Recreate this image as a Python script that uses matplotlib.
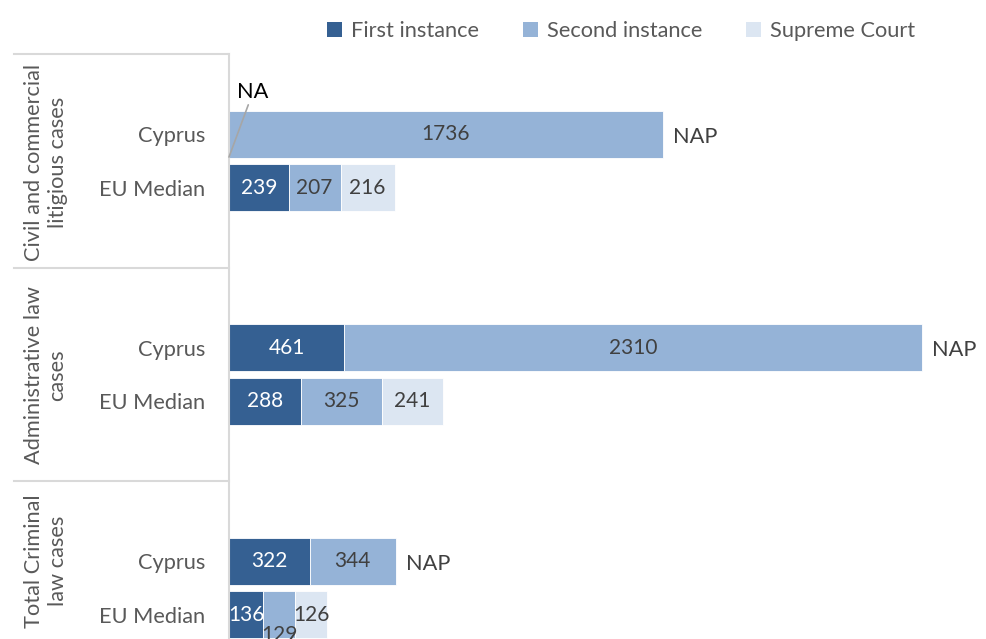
import matplotlib.pyplot as plt
import matplotlib.transforms as mtransforms
from matplotlib.lines import Line2D
from matplotlib.patches import Patch

plt.rcParams['font.family'] = ['Lato', 'DejaVu Sans']

groups = ['Civil and commercial\nlitigious cases', 'Administrative law\ncases', 'Total Criminal\nlaw cases']
rows = ['Cyprus', 'EU Median']
series = ['First instance', 'Second instance', 'Supreme Court']
colors = ['#356092', '#95B3D7', '#DCE6F2']
text_colors = ['white', '#404040', '#404040']

# values per group: [Cyprus, EU Median]; None = not available
first = [[None, 239], [461, 288], [322, 136]]
second = [[1736, 207], [2310, 325], [344, 129]]
supreme = [[None, 216], [None, 241], [None, 126]]
supreme_note = ['NAP', 'NAP', 'NAP']

W, H = 987, 639
fig = plt.figure(figsize=(W / 100, H / 100), dpi=100)
ax = fig.add_axes([229 / W, 0, 1 - 229 / W, 585 / H])

pitch = 53.4
ax.set_xlim(0, 758 / 0.25)
ax.set_ylim(-0.5 + 585 / pitch, -0.5)

LBL = 15.7
ypos, ylabels = [], []
for g in range(len(groups)):
    for r in range(len(rows)):
        y = 4 * g + 1 + r
        ypos.append(y)
        ylabels.append(rows[r])
        left = 0
        for s, data in enumerate([first, second, supreme]):
            v = data[g][r]
            if v is None:
                continue
            ax.barh(y, v, left=left, height=0.88, color=colors[s],
                    edgecolor='white', linewidth=0.6)
            ty = y
            if g == 2 and r == 1 and s == 1:
                ty = y + 0.38  # label pushed down, as in the original
            ax.text(left + v / 2, ty, str(v), ha='center', va='center',
                    fontsize=15, color=text_colors[s])
            left += v
        if r == 0:
            ax.text(left + 40, y + 0.05, supreme_note[g], ha='left', va='center',
                    fontsize=LBL, color='#404040')

# NA label for missing first instance (civil, Cyprus)
ax.annotate('NA', xy=(0, 1.43), xytext=(96, 0.4), ha='center', va='bottom',
            fontsize=LBL, color='black',
            arrowprops=dict(arrowstyle='-', color='#A6A6A6', lw=1.2,
                            shrinkA=0, shrinkB=0))

ax.set_yticks(ypos)
ax.set_yticklabels(ylabels, fontsize=LBL, color='#595959')
ax.tick_params(axis='y', length=0, pad=17)
ax.set_xticks([])
for sp in ['top', 'right', 'bottom']:
    ax.spines[sp].set_visible(False)
ax.spines['left'].set_color('#D9D9D9')
ax.spines['left'].set_linewidth(1.5)

# group separators and labels
trans = mtransforms.blended_transform_factory(ax.transAxes, ax.transData)
x0 = (14 - 229) / 758
for yy in [-0.5, 3.5, 7.5]:
    ax.add_line(Line2D([x0, 0], [yy, yy], transform=trans, color='#D9D9D9',
                       lw=1.5, clip_on=False))

label_y = [162, 375, 561]
for txt, py in zip(groups, label_y):
    fig.text(46 / W, 1 - py / H, txt, rotation=90, ha='center', va='center',
             fontsize=LBL, color='#595959', linespacing=1.2)

# legend
handles = [Patch(facecolor=c, edgecolor='none') for c in colors]
fig.legend(handles, series, loc='center', bbox_to_anchor=(621 / W, 1 - 31 / H),
           ncol=3, frameon=False, fontsize=LBL, handlelength=0.7, handleheight=0.7,
           handletextpad=0.4, columnspacing=2.0, labelcolor='#595959')

fig.savefig('out.png', dpi=100, facecolor='white')
